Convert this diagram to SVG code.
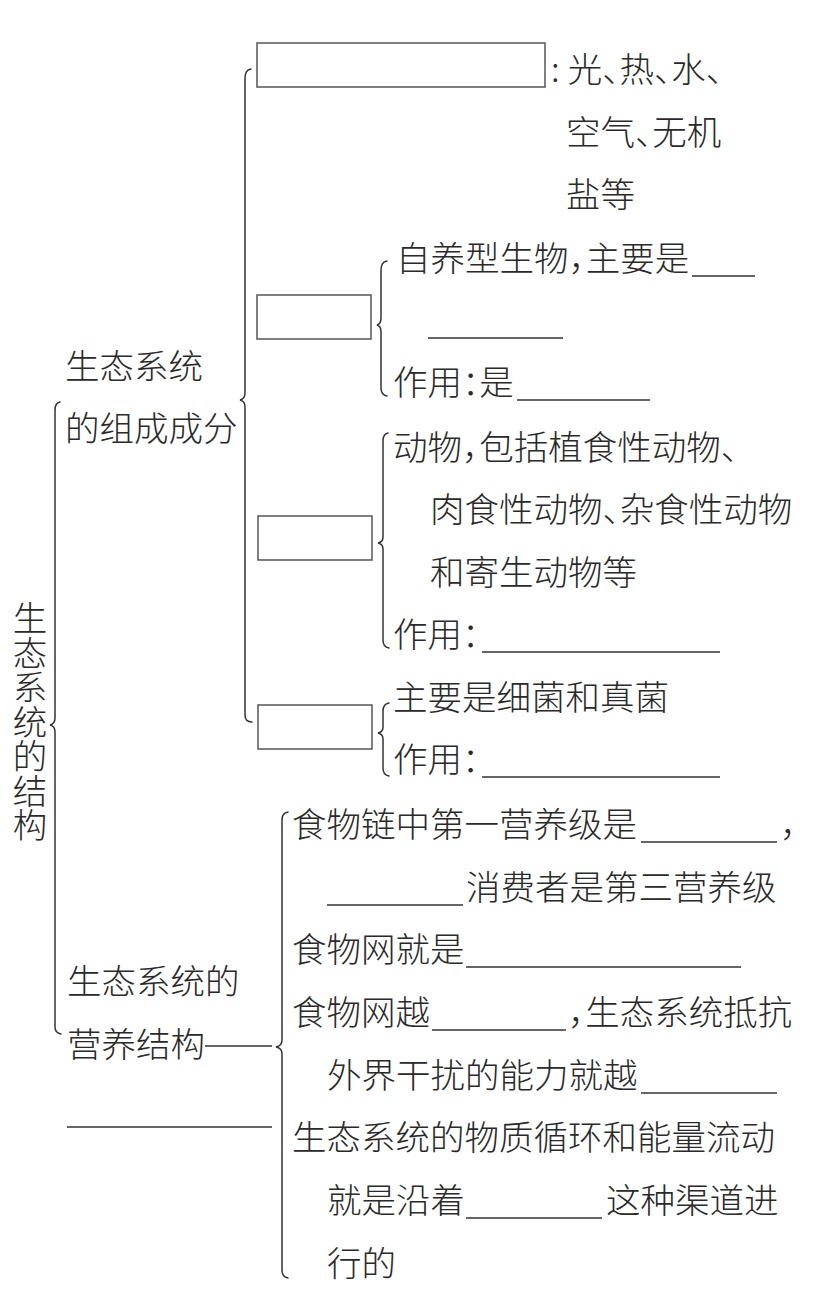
<svg xmlns="http://www.w3.org/2000/svg" width="835" height="1291" viewBox="0 0 835 1291">
<style>
  text { font-family: "Noto Sans CJK SC", "Noto Sans", sans-serif; font-size: 34.5px; fill: #2a2a2a; font-weight: 300; }
  .vert { writing-mode: vertical-rl; }
  .half { letter-spacing: -17.25px; }
  .box { fill: #fff; stroke: #555; stroke-width: 1.5; }
  .brace { fill: none; stroke: #333; stroke-width: 1.5; stroke-linecap: round; }
  .ul { stroke: #333; stroke-width: 1.3; }
</style>
<rect width="835" height="1291" fill="#fff"/>

<g id="connectors">
  <path class="brace" d="M60,402 Q55,403 55,410 L55,718 Q55,724 50,725 Q55,726 55,732 L55,1027 Q55,1033 61,1034"/>
  <path class="brace" d="M251,69 Q245,70 245,78 L245,393 Q245,399 240,400 Q245,401 245,407 L245,715 Q245,722 252,722"/>
  <path class="brace" d="M387,261 Q381,262 381,270 L381,318 Q381,324 377,325 Q381,326 381,332 L381,388 Q381,395 387,396"/>
  <path class="brace" d="M388,433 Q383,434 383,441 L383,537 Q383,542 378,543 Q383,544 383,549 L383,640 Q383,647 389,648"/>
  <path class="brace" d="M389,703 Q383,704 383,711 L383,727 Q383,732 378,733 Q383,734 383,739 L383,768 Q383,775 389,776"/>
  <path class="brace" d="M288,812 Q282,813 282,820 L282,1040 Q282,1046 276,1047 Q282,1048 282,1054 L282,1270 Q282,1277 288,1278"/>
  <line class="ul" x1="205" y1="1046" x2="272" y2="1046"/>
</g>

<g id="root">
  <text class="vert" x="30" y="601">生态系统的结构</text>
</g>

<g id="composition">
  <text x="65" y="379">生态系统</text>
  <text x="65" y="441">的组成成分</text>
</g>

<g id="abiotic">
  <rect class="box" x="257" y="43" width="288" height="44"/>
  <text x="551" y="82">:<tspan dx="8">光</tspan><tspan class="half">、</tspan>热<tspan class="half">、</tspan>水<tspan class="half">、</tspan></text>
  <text x="566" y="145">空气<tspan class="half">、</tspan>无机</text>
  <text x="566" y="207">盐等</text>
</g>

<g id="producer">
  <rect class="box" x="257" y="295" width="114" height="44"/>
  <text x="396" y="270.5">自养型生物<tspan class="half">，</tspan>主要是</text>
  <line class="ul" x1="692" y1="276" x2="755" y2="276"/>
  <line class="ul" x1="428" y1="338" x2="563" y2="338"/>
  <text x="393" y="394.5">作用<tspan class="half">：</tspan>是</text>
  <line class="ul" x1="517" y1="400" x2="650" y2="400"/>
</g>

<g id="consumer">
  <rect class="box" x="258" y="516" width="114" height="44"/>
  <text x="393" y="459.5">动物<tspan class="half">，</tspan>包括植食性动物<tspan class="half">、</tspan></text>
  <text x="430" y="522">肉食性动物<tspan class="half">、</tspan>杂食性动物</text>
  <text x="430" y="584.5">和寄生动物等</text>
  <text x="393" y="647">作用<tspan class="half">：</tspan></text>
  <line class="ul" x1="482" y1="652" x2="720" y2="652"/>
</g>

<g id="decomposer">
  <rect class="box" x="258" y="705" width="114" height="44"/>
  <text x="393" y="710">主要是细菌和真菌</text>
  <text x="393" y="772">作用<tspan class="half">：</tspan></text>
  <line class="ul" x1="482" y1="777" x2="720" y2="777"/>
</g>

<g id="trophic">
  <text x="67" y="994">生态系统的</text>
  <text x="67" y="1057">营养结构</text>
  <line class="ul" x1="67" y1="1127" x2="272" y2="1127"/>
</g>

<g id="trophic-details">
  <text x="292" y="837">食物链中第一营养级是</text>
  <line class="ul" x1="641" y1="842" x2="777" y2="842"/>
  <text x="780" y="837" class="half">，</text>
  <line class="ul" x1="327" y1="905" x2="463" y2="905"/>
  <text x="466" y="900">消费者是第三营养级</text>
  <text x="292" y="962">食物网就是</text>
  <line class="ul" x1="466" y1="967" x2="741" y2="967"/>
  <text x="292" y="1025">食物网越</text>
  <line class="ul" x1="432" y1="1030" x2="566" y2="1030"/>
  <text x="568" y="1025"><tspan class="half">，</tspan>生态系统抵抗</text>
  <text x="327" y="1088">外界干扰的能力就越</text>
  <line class="ul" x1="641" y1="1093" x2="777" y2="1093"/>
  <text x="292" y="1150">生态系统的物质循环和能量流动</text>
  <text x="327" y="1213">就是沿着</text>
  <line class="ul" x1="466" y1="1218" x2="602" y2="1218"/>
  <text x="606" y="1213">这种渠道进</text>
  <text x="327" y="1276">行的</text>
</g>
</svg>
